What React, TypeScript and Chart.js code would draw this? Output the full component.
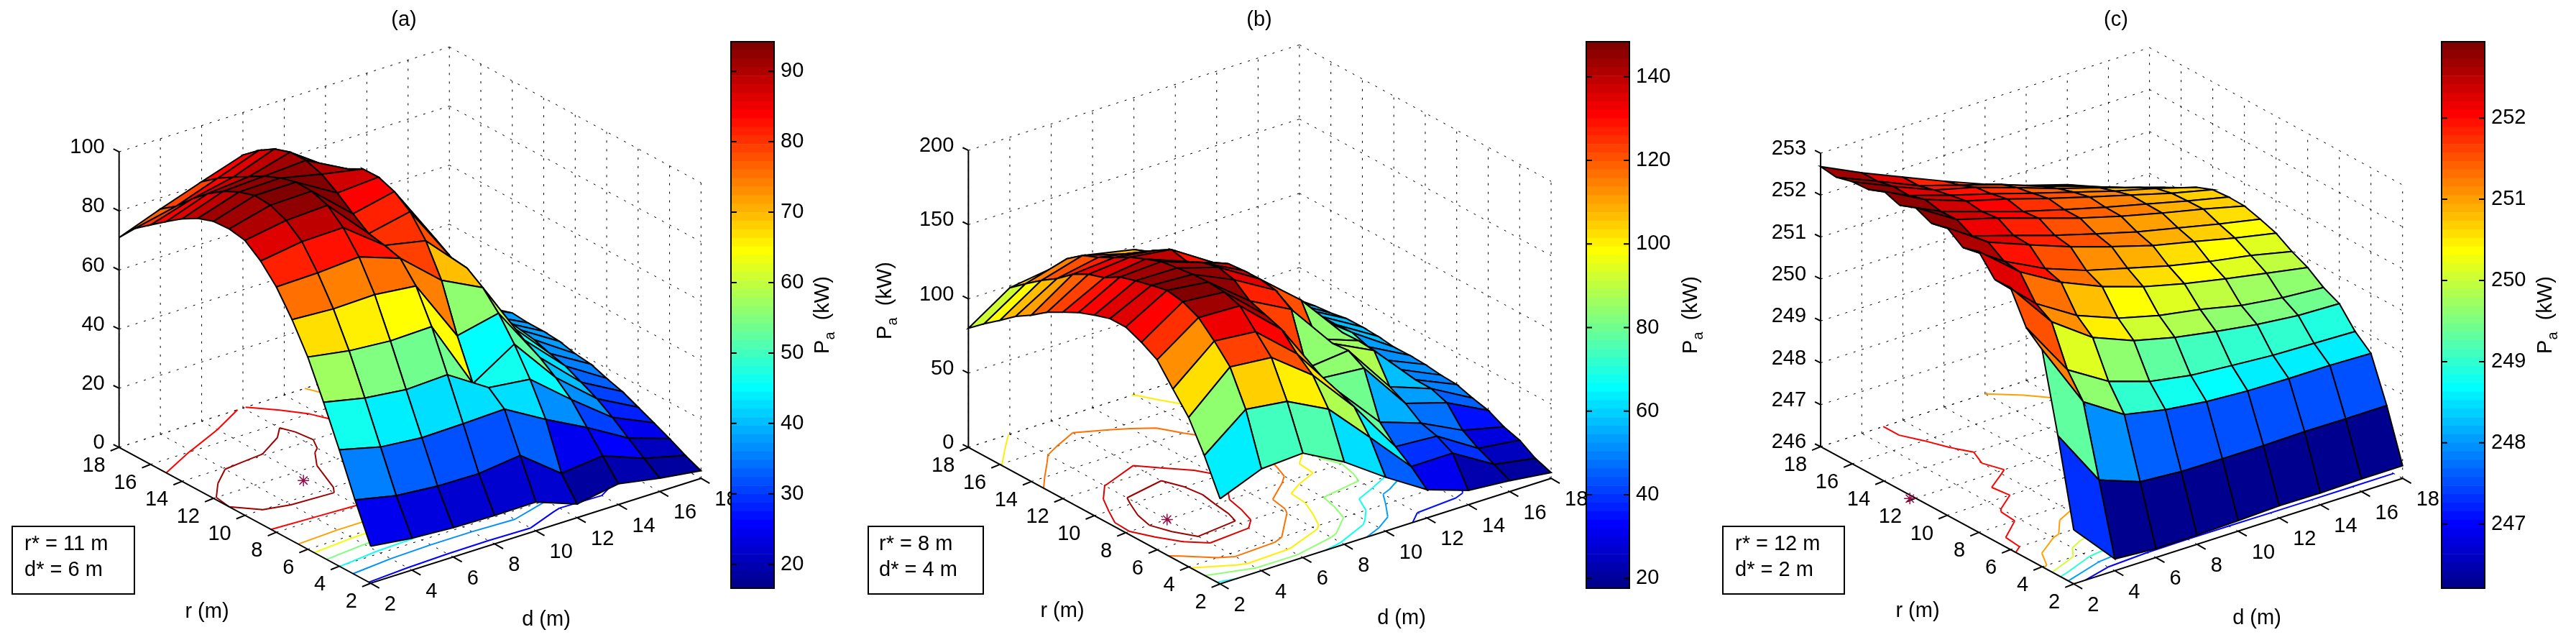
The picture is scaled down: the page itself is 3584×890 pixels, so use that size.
import React, { useEffect, useRef } from "react";
import { Chart, registerables } from "chart.js";

Chart.register(...registerables);

const W = 3584;
const H = 890;
const FONT = '"Liberation Sans", Arial, sans-serif';
const FS = 29;

// Axis values
const dValues = [2, 4, 6, 8, 10, 12, 14, 16, 18];
const rValues = [2, 3, 4, 5, 6, 7, 8, 9, 10, 11, 12, 13, 14, 15, 16, 17, 18];
const planTicks = [2, 4, 6, 8, 10, 12, 14, 16, 18];

// Pa (kW): one row per d, one value per r
const zA = [
  [12.5, 25.3, 39.4, 52.6, 65, 74.8, 83, 88.9, 93, 94, 93.7, 91.8, 88.8, 85, 81, 76.9, 71],
  [10.8, 22.3, 35.9, 49.6, 62.7, 74, 83.3, 91, 95.3, 97.6, 98, 96.3, 93.7, 90, 85.3, 80, 76.2],
  [9.9, 21.1, 34.6, 48, 61.6, 74.4, 84.3, 91.3, 96, 97.9, 98.1, 96.6, 94.4, 91.3, 88.3, 85, 81],
  [9.6, 20.9, 34.9, 48.6, 62, 72.9, 79.4, 80.9, 82, 85.8, 90, 93.5, 95.3, 95.2, 93.4, 90, 85.6],
  [9.7, 22.6, 35.4, 39.8, 38.3, 51.6, 67.5, 78, 85, 88.9, 90.9, 90.8, 88, 85.5, 83.5, 80, 76],
  [4.6, 12.1, 27.5, 38.2, 47.2, 54.8, 60.6, 64.3, 65, 68.4, 71, 70, 66, 68, 68, 67, 66],
  [7, 13.6, 20.3, 26.9, 31.5, 35.4, 38.5, 41, 43, 45, 47, 49, 50, 50, 50, 50, 48],
  [4.5, 8.3, 12.3, 16.4, 19.9, 22.6, 25.2, 26.6, 28.4, 29, 28.6, 28, 28, 29, 30, 33, 36],
  [2.6, 4.9, 7.7, 10.2, 12.6, 15, 16.6, 18.5, 19.2, 20.5, 21, 21, 21.5, 19.8, 18, 16, 13],
];
const zB = [
  [57.3, 80.7, 100.6, 114, 127.9, 134, 138.5, 138.4, 135, 131, 125.5, 119.7, 112, 105.4, 97, 89, 80.2],
  [68.6, 102.9, 125.7, 137.4, 147.4, 152.4, 154.3, 151.9, 149.3, 146, 139.8, 136.4, 130.6, 122, 115, 107, 98.6],
  [70.3, 99.4, 123.2, 134.8, 146.5, 150, 151, 150.5, 149, 147.5, 143.5, 139, 133, 127.4, 123, 115, 102.7],
  [55.5, 85.3, 102.4, 111, 121.9, 125.7, 129.4, 137.9, 140.6, 138, 133, 135.3, 129, 122, 115, 108, 103.3],
  [36.3, 57.4, 72.2, 76.7, 80.2, 81, 114.8, 122, 123.8, 123.6, 122.6, 117.8, 112.7, 112, 107.6, 102, 97.7],
  [19, 28.8, 36.5, 47.3, 77.9, 84, 83, 80.4, 100.7, 100, 96.4, 97, 95, 92, 89, 85, 82],
  [9.6, 29, 34.7, 37.7, 45.3, 50.7, 69.4, 70.3, 69.9, 70, 70, 68, 66, 64, 62, 60, 58],
  [7.3, 12.6, 17.6, 24, 36.8, 40.6, 40.8, 42, 42.7, 45.8, 49.5, 49, 49, 48, 47, 45, 42],
  [3.9, 7.7, 14.2, 17.5, 22.8, 25.4, 28.7, 29.3, 30.7, 31.2, 31, 32.4, 33, 32.9, 30.9, 29.9, 28],
];
const zC = [
  [247.29, 249.33, 251.18, 251.5, 252.25, 252.24, 252.7, 252.59, 252.86, 252.76, 252.93, 252.78, 252.91, 252.75, 252.73, 252.63, 252.68],
  [246.28, 247.96, 249.62, 250.18, 251.12, 251.35, 251.9, 251.95, 252.2, 252.14, 252.33, 252.32, 252.4, 252.29, 252.3, 252.22, 252.22],
  [246.21, 247.6, 249.0, 249.59, 250.43, 250.75, 251.34, 251.46, 251.82, 251.84, 252.05, 252.0, 252.05, 251.98, 251.9, 251.8, 251.8],
  [246.22, 247.53, 248.8, 249.27, 250.04, 250.37, 250.92, 251.1, 251.46, 251.53, 251.73, 251.69, 251.78, 251.7, 251.65, 251.5, 251.39],
  [246.25, 247.52, 248.68, 249.1, 249.8, 250.12, 250.6, 250.84, 251.15, 251.25, 251.42, 251.42, 251.48, 251.4, 251.33, 251.2, 251.0],
  [246.29, 247.52, 248.62, 249.02, 249.63, 249.95, 250.36, 250.58, 250.86, 250.98, 251.15, 251.16, 251.2, 251.11, 250.99, 250.84, 250.66],
  [246.28, 247.54, 248.6, 248.95, 249.48, 249.73, 250.16, 250.37, 250.64, 250.76, 250.91, 250.92, 250.93, 250.82, 250.7, 250.53, 250.36],
  [246.3, 247.53, 248.6, 248.92, 249.38, 249.6, 249.98, 250.2, 250.41, 250.54, 250.69, 250.68, 250.66, 250.57, 250.39, 250.18, 249.98],
  [246.3, 247.53, 248.57, 248.89, 249.35, 249.53, 249.8, 249.98, 250.21, 250.34, 250.45, 250.46, 250.43, 250.28, 250.07, 249.87, 249.66],
];

// z axis ticks, colour bar ticks and contour levels
const zTicksA = [0, 20, 40, 60, 80, 100];
const zTicksB = [0, 50, 100, 150, 200];
const zTicksC = [246, 247, 248, 249, 250, 251, 252, 253];
const barTicksA = [20, 30, 40, 50, 60, 70, 80, 90];
const barTicksB = [20, 40, 60, 80, 100, 120, 140];
const barTicksC = [247, 248, 249, 250, 251, 252];
const levelsA = [14, 27, 39, 50, 60, 71, 85, 94];
const levelsB = [25, 45, 62, 80, 98, 118, 140, 147.5];
const levelsC = [247, 248, 249, 250, 251, 252];

const panels = [
  {
    title: "(a)", titleX: 562, z: zA, zTicks: zTicksA, zMin: 0, zMax: 100, levels: levelsA,
    F: [509, 819], L: [157, 626], R: [971, 670], zPx: 420,
    star: [5.75, 11.2], note: ["r* = 11 m", "d* = 6 m"], box: [17, 732, 170, 94], noteX: 34,
    rLabel: [288, 851], dLabel: [760, 862], zLabel: null as null | number[],
    bar: { left: 1017, right: 1077, min: 16.6, max: 94.2, ticks: barTicksA, titleX: 1147 },
  },
  {
    title: "(b)", titleX: 1752, z: zB, zTicks: zTicksB, zMin: 0, zMax: 200, levels: levelsB,
    F: [1697, 820], L: [1345, 626], R: [2160, 670], zPx: 422,
    star: [4, 8], note: ["r* = 8 m", "d* = 4 m"], box: [1208, 732, 160, 94], noteX: 1223,
    rLabel: [1478, 850], dLabel: [1950, 860], zLabel: [1234, 418],
    bar: { left: 2207, right: 2267, min: 17.65, max: 148.4, ticks: barTicksB, titleX: 2355 },
  },
  {
    title: "(c)", titleX: 2944, z: zC, zTicks: zTicksC, zMin: 246, zMax: 253, levels: levelsC,
    F: [2891, 820], L: [2537, 625], R: [3351, 670], zPx: 417,
    star: [1.8, 12.1], note: ["r* = 12 m", "d* = 2 m"], box: [2397, 732, 169, 94], noteX: 2414,
    rLabel: [2668, 850], dLabel: [3140, 860], zLabel: null as null | number[],
    bar: { left: 3397, right: 3457, min: 246.21, max: 252.94, ticks: barTicksC, titleX: 3544 },
  },
];

function ramp(k: number) {
  // MATLAB's jet(64) trapezoid
  if (k < 1 || k > 47) return 0;
  if (k <= 16) return k / 16;
  if (k <= 31) return 1;
  return (48 - k) / 16;
}
function jet(t: number) {
  const k = Math.min(64, Math.max(1, Math.floor(t * 64) + 1));
  const c = (v: number) => Math.round(255 * v);
  return `rgb(${c(ramp(k - 24))},${c(ramp(k - 8))},${c(ramp(k + 8))})`;
}

type Panel = (typeof panels)[number];

function projector(p: Panel) {
  return (d: number, r: number, z: number) => {
    const a = (d - 2) / 16;
    const b = (r - 2) / 16;
    return {
      x: p.F[0] + a * (p.R[0] - p.F[0]) + b * (p.L[0] - p.F[0]),
      y: p.F[1] + a * (p.R[1] - p.F[1]) + b * (p.L[1] - p.F[1]) - ((z - p.zMin) / (p.zMax - p.zMin)) * p.zPx,
    };
  };
}

function contourSegments(z: number[][], level: number) {
  const segs: { d: number; r: number }[][] = [];
  for (let i = 0; i < dValues.length - 1; i++) {
    for (let j = 0; j < rValues.length - 1; j++) {
      const c = [
        { d: dValues[i], r: rValues[j], v: z[i][j] },
        { d: dValues[i + 1], r: rValues[j], v: z[i + 1][j] },
        { d: dValues[i + 1], r: rValues[j + 1], v: z[i + 1][j + 1] },
        { d: dValues[i], r: rValues[j + 1], v: z[i][j + 1] },
      ];
      const hits: { d: number; r: number }[] = [];
      for (let e = 0; e < 4; e++) {
        const p = c[e];
        const q = c[(e + 1) % 4];
        if (p.v < level !== q.v < level) {
          const t = (level - p.v) / (q.v - p.v);
          hits.push({ d: p.d + t * (q.d - p.d), r: p.r + t * (q.r - p.r) });
        }
      }
      if (hits.length === 2) segs.push(hits);
      if (hits.length === 4) {
        segs.push([hits[0], hits[1]]);
        segs.push([hits[2], hits[3]]);
      }
    }
  }
  return segs;
}

const GAP = { x: NaN, y: NaN };
const lineSet = (data: any[], color: string, width: number, dash: number[] = []) => ({
  data,
  showLine: true,
  fill: false,
  borderColor: color,
  backgroundColor: color,
  borderWidth: width,
  borderDash: dash,
  pointRadius: 0,
  tension: 0,
  clip: false,
  spanGaps: false,
});

function buildDatasets(p: Panel) {
  const P = projector(p);
  const z = p.z;
  const flat = z.flat();
  const lo = Math.min(...flat);
  const hi = Math.max(...flat);
  const sets: any[] = [];

  // dotted walls and floor; the shared back edge is drawn only once
  const grid: any[] = [];
  const d0 = planTicks[0];
  const d1 = planTicks[planTicks.length - 1];
  planTicks.forEach((t) => {
    grid.push(P(t, d0, p.zMin), P(t, d1, p.zMin), GAP);
    grid.push(P(d0, t, p.zMin), P(d1, t, p.zMin), GAP);
    grid.push(P(t, d1, p.zMin), P(t, d1, p.zMax), GAP);
    if (t !== d1) grid.push(P(d1, t, p.zMin), P(d1, t, p.zMax), GAP);
  });
  p.zTicks.forEach((t) => {
    grid.push(P(d0, d1, t), P(d1, d1, t), GAP);
    grid.push(P(d1, d1, t), P(d1, d0, t), GAP);
  });
  sets.push(lineSet(grid, "#000", 1, [3, 9]));

  // floor contours, from the z values
  p.levels.forEach((lv) => {
    const pts: any[] = [];
    contourSegments(z, lv).forEach((s) => {
      pts.push(P(s[0].d, s[0].r, p.zMin), P(s[1].d, s[1].r, p.zMin), GAP);
    });
    sets.push(lineSet(pts, jet((lv - lo) / (hi - lo)), 2));
  });

  // axes and ticks
  const axes = [P(d0, d1, p.zMax), P(d0, d1, p.zMin), P(d0, d0, p.zMin), P(d1, d0, p.zMin)];
  sets.push(lineSet(axes, "#000", 2));
  const tk: any[] = [];
  planTicks.forEach((t) => {
    const a = P(t, d0, p.zMin);
    tk.push(a, { x: a.x + 12, y: a.y + 7 }, GAP);
    const b = P(d0, t, p.zMin);
    tk.push(b, { x: b.x - 12, y: b.y + 5 }, GAP);
  });
  p.zTicks.forEach((t) => {
    const a = P(d0, d1, t);
    tk.push(a, { x: a.x - 8, y: a.y - 4 }, GAP);
  });
  sets.push(lineSet(tk, "#000", 2));

  // optimum marker on the floor
  sets.push({
    data: [P(p.star[0], p.star[1], p.zMin)],
    showLine: false,
    pointStyle: "star",
    pointRadius: 8,
    pointBorderColor: "#960c48",
    pointBackgroundColor: "#960c48",
    pointBorderWidth: 1.5,
    clip: false,
  });

  // faces, far to near; each face takes the colour of its low-index corner
  for (let i = dValues.length - 2; i >= 0; i--) {
    for (let j = rValues.length - 2; j >= 0; j--) {
      const poly = [
        P(dValues[i], rValues[j], z[i][j]),
        P(dValues[i + 1], rValues[j], z[i + 1][j]),
        P(dValues[i + 1], rValues[j + 1], z[i + 1][j + 1]),
        P(dValues[i], rValues[j + 1], z[i][j + 1]),
      ];
      poly.push(poly[0]);
      sets.push({
        ...lineSet(poly, "#000", 2),
        fill: "shape",
        backgroundColor: jet((z[i][j] - lo) / (hi - lo)),
      });
    }
  }
  return sets.reverse(); // Chart.js paints the last dataset first
}

function subLabel(ctx: CanvasRenderingContext2D, x: number, y: number) {
  // rotated "Pa (kW)" with a subscript a, centred on x, y
  ctx.save();
  ctx.translate(x, y);
  ctx.rotate(-Math.PI / 2);
  ctx.fillStyle = "#000";
  ctx.textBaseline = "alphabetic";
  ctx.textAlign = "left";
  ctx.font = `${FS}px ${FONT}`;
  const w = ctx.measureText("P").width;
  const tail = "  (kW)";
  const tw = ctx.measureText(tail).width;
  ctx.font = `20px ${FONT}`;
  const sw = ctx.measureText("a").width;
  const start = -(w + sw + tw) / 2;
  ctx.font = `${FS}px ${FONT}`;
  ctx.fillText("P", start, 6);
  ctx.fillText(tail, start + w + sw, 6);
  ctx.font = `20px ${FONT}`;
  ctx.fillText("a", start + w, 14);
  ctx.restore();
}

function surfaceText(p: Panel) {
  const P = projector(p);
  return {
    id: "surfaceText",
    afterDraw(chart: any) {
      const { ctx, scales } = chart;
      const px = (o: { x: number; y: number }) => ({
        x: scales.x.getPixelForValue(o.x),
        y: scales.y.getPixelForValue(o.y),
      });
      ctx.save();
      ctx.fillStyle = "#000";
      ctx.font = `${FS}px ${FONT}`;
      ctx.textBaseline = "middle";
      ctx.textAlign = "center";
      ctx.fillText(p.title, p.titleX, 28);
      ctx.fillText("r (m)", p.rLabel[0], p.rLabel[1]);
      ctx.fillText("d (m)", p.dLabel[0], p.dLabel[1]);
      ctx.textAlign = "right";
      p.zTicks.forEach((t) => {
        const a = px(P(2, 18, t));
        ctx.fillText(String(t), a.x - 20, a.y - 6);
      });
      planTicks.forEach((t) => {
        const a = px(P(2, t, p.zMin));
        ctx.fillText(String(t), a.x - 19, a.y + 26);
      });
      ctx.textAlign = "left";
      planTicks.forEach((t) => {
        const a = px(P(t, 2, p.zMin));
        ctx.fillText(String(t), a.x + 19, a.y + 30);
      });
      ctx.strokeStyle = "#000";
      ctx.lineWidth = 2;
      ctx.fillStyle = "#fff";
      ctx.fillRect(p.box[0], p.box[1], p.box[2], p.box[3]);
      ctx.strokeRect(p.box[0], p.box[1], p.box[2], p.box[3]);
      ctx.fillStyle = "#000";
      ctx.fillText(p.note[0], p.noteX, 757);
      ctx.fillText(p.note[1], p.noteX, 793);
      ctx.restore();
      if (p.zLabel) subLabel(ctx, p.zLabel[0], p.zLabel[1]);
    },
  };
}

function surfaceChart(canvas: HTMLCanvasElement, p: Panel) {
  return new Chart(canvas, {
    type: "scatter",
    data: { datasets: buildDatasets(p) },
    plugins: [surfaceText(p)],
    options: {
      animation: false,
      responsive: false,
      events: [],
      devicePixelRatio: 1,
      layout: { padding: 0 },
      plugins: { legend: { display: false }, tooltip: { enabled: false } },
      scales: {
        x: { type: "linear", display: false, min: 0, max: W },
        y: { type: "linear", display: false, min: 0, max: H, reverse: true },
      },
    },
  } as any);
}

function barChart(canvas: HTMLCanvasElement, p: Panel) {
  const b = p.bar;
  const n = 64;
  const AXIS_W = 80;
  const sets = Array.from({ length: n }, (_, k) => ({
    data: [[b.min + ((b.max - b.min) * k) / n, b.min + ((b.max - b.min) * (k + 1)) / n]],
    backgroundColor: jet((k + 0.5) / n),
    borderWidth: 0,
    barPercentage: 1,
    categoryPercentage: 1,
    grouped: false,
  }));
  return new Chart(canvas, {
    type: "bar",
    data: { labels: ["Pa"], datasets: sets },
    plugins: [
      {
        id: "barFrame",
        afterDraw(chart: any) {
          const { ctx, chartArea: c, scales } = chart;
          ctx.save();
          ctx.strokeStyle = "#000";
          ctx.lineWidth = 2;
          ctx.strokeRect(c.left, c.top, c.right - c.left, c.bottom - c.top);
          b.ticks.forEach((t) => {
            const y = scales.y.getPixelForValue(t);
            ctx.beginPath();
            ctx.moveTo(c.left, y);
            ctx.lineTo(c.left + 8, y);
            ctx.moveTo(c.right, y);
            ctx.lineTo(c.right - 8, y);
            ctx.stroke();
          });
          ctx.restore();
          subLabel(ctx, b.titleX, 438);
        },
      },
    ],
    options: {
      animation: false,
      responsive: false,
      events: [],
      devicePixelRatio: 1,
      layout: { padding: { left: b.left, right: W - b.right - AXIS_W, top: 58, bottom: H - 818 } },
      plugins: { legend: { display: false }, tooltip: { enabled: false } },
      scales: {
        x: { display: false },
        y: {
          position: "right",
          min: b.min,
          max: b.max,
          afterBuildTicks: (s: any) => {
            s.ticks = b.ticks.map((value) => ({ value }));
          },
          afterFit: (s: any) => {
            s.width = AXIS_W;
          },
          grid: { drawTicks: false, drawOnChartArea: false },
          border: { display: false },
          ticks: {
            color: "#000",
            padding: 9,
            font: { family: FONT, size: FS },
            autoSkip: false,
            callback: (v: any) => String(v),
          },
        },
      },
    },
  } as any);
}

export default function App() {
  const host = useRef<HTMLDivElement>(null);
  useEffect(() => {
    document.body.style.margin = "0";
    const el = host.current!;
    const charts: Chart[] = [];
    const add = () => {
      const c = document.createElement("canvas");
      c.width = W;
      c.height = H;
      c.style.cssText = `position:absolute;left:0;top:0;width:${W}px;height:${H}px`;
      el.appendChild(c);
      return c;
    };
    panels.forEach((p) => {
      charts.push(surfaceChart(add(), p));
      charts.push(barChart(add(), p));
    });
    return () => {
      charts.forEach((c) => c.destroy());
      el.innerHTML = "";
    };
  }, []);
  return <div ref={host} style={{ position: "relative", width: W, height: H, overflow: "hidden", background: "#fff" }} />;
}
